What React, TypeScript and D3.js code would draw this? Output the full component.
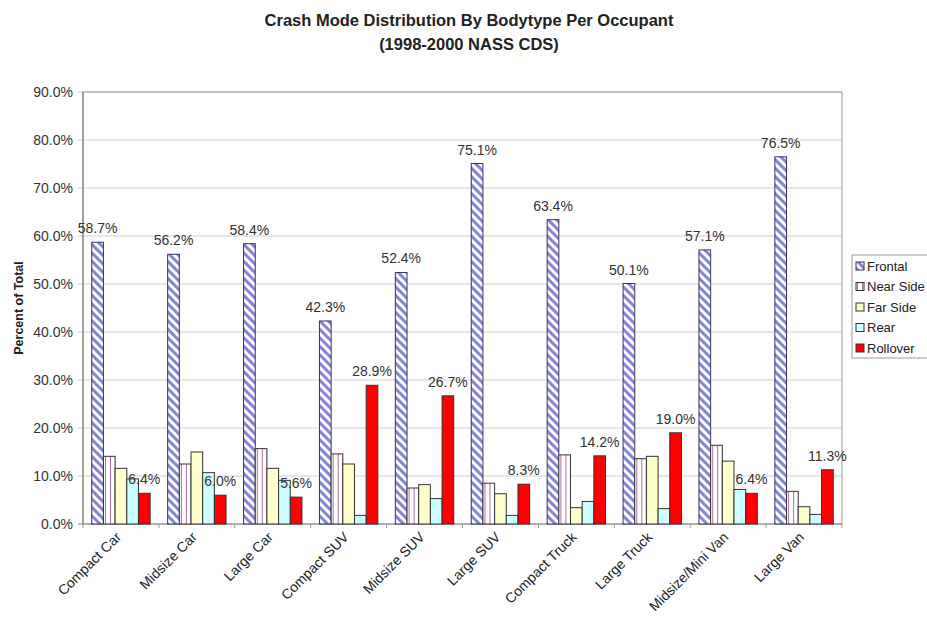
import React from "react";
import * as d3 from "d3";

// Body types along the x axis
const categories = [
  "Compact Car",
  "Midsize Car",
  "Large Car",
  "Compact SUV",
  "Midsize SUV",
  "Large SUV",
  "Compact Truck",
  "Large Truck",
  "Midsize/Mini Van",
  "Large Van",
];

// Crash-mode shares (% of occupants) per body type
const frontal = [58.7, 56.2, 58.4, 42.3, 52.4, 75.1, 63.4, 50.1, 57.1, 76.5];
const nearSide = [14.1, 12.5, 15.7, 14.6, 7.5, 8.5, 14.4, 13.6, 16.4, 6.8];
const farSide = [11.6, 15.0, 11.6, 12.5, 8.2, 6.3, 3.4, 14.1, 13.1, 3.6];
const rear = [9.4, 10.7, 9.1, 1.8, 5.3, 1.8, 4.7, 3.2, 7.2, 2.0];
const rollover = [6.4, 6.0, 5.6, 28.9, 26.7, 8.3, 14.2, 19.0, 6.4, 11.3];

const seriesNames = ["Frontal", "Near Side", "Far Side", "Rear", "Rollover"];
const seriesValues = [frontal, nearSide, farSide, rear, rollover];
const labelledSeries = ["Frontal", "Rollover"];

const yTicks = [0, 10, 20, 30, 40, 50, 60, 70, 80, 90];

const W = 927;
const H = 618;
const plot = { left: 83, right: 842, top: 92, bottom: 524 };
const FONT = "Arial, 'Liberation Sans', Helvetica, sans-serif";

const fills: Record<string, string> = {
  Frontal: "url(#pat-frontal)",
  "Near Side": "url(#pat-near)",
  "Far Side": "#FFFFCC",
  Rear: "#CCFFFF",
  Rollover: "#FF0000",
};
const strokes: Record<string, string> = {
  Frontal: "#333366",
  "Near Side": "#333333",
  "Far Side": "#333333",
  Rear: "#333333",
  Rollover: "#333333",
};

export default function App() {
  const x = d3
    .scaleBand<string>()
    .domain(categories)
    .range([plot.left, plot.right])
    .paddingInner(0)
    .paddingOuter(0);
  const bw = x.bandwidth();
  const barW = bw / 6.5;
  const gap = barW * 1.5;
  const xs = d3
    .scaleBand<string>()
    .domain(seriesNames)
    .range([gap / 2, bw - gap / 2])
    .padding(0);
  const y = d3.scaleLinear().domain([0, 90]).range([plot.bottom, plot.top]);
  const fmtTick = d3.format(".1f");

  const legend = { x: 852, y: 255, w: 90, h: 103 };

  return (
    <svg
      width={W}
      height={H}
      style={{ position: "absolute", left: 0, top: 0, background: "#fff" }}
      fontFamily={FONT}
    >
      <defs>
        <pattern
          id="pat-frontal"
          patternUnits="userSpaceOnUse"
          width={6}
          height={6}
          patternTransform="rotate(-45)"
        >
          <rect width={6} height={6} fill="#ffffff" />
          <rect width={3} height={6} fill="#8484dc" />
        </pattern>
        <pattern id="pat-near" patternUnits="userSpaceOnUse" width={5} height={5}>
          <rect width={5} height={5} fill="#ffffff" />
          <rect x={2} width={1} height={5} fill="#b0709c" />
        </pattern>
      </defs>
      <rect width={W} height={H} fill="#fff" />

      {/* Title */}
      <text x={469} y={26} textAnchor="middle" fontWeight="bold" fontSize={16.5} fill="#222">
        Crash Mode Distribution By Bodytype Per Occupant
      </text>
      <text x={469} y={50} textAnchor="middle" fontWeight="bold" fontSize={16.5} fill="#222">
        (1998-2000 NASS CDS)
      </text>

      {/* Gridlines and y ticks */}
      {yTicks.map((t) => (
        <g key={t}>
          <line
            x1={plot.left - 5}
            x2={plot.right}
            y1={y(t)}
            y2={y(t)}
            stroke={t === 0 ? "#888" : "#cfcfcf"}
            strokeWidth={1}
          />
          <text
            x={73}
            y={y(t)}
            dy="0.35em"
            textAnchor="end"
            fontSize={14}
            fill="#333"
          >
            {fmtTick(t)}%
          </text>
        </g>
      ))}

      {/* Plot frame */}
      <rect
        x={plot.left}
        y={plot.top}
        width={plot.right - plot.left}
        height={plot.bottom - plot.top}
        fill="none"
        stroke="#999"
        strokeWidth={1}
      />
      <line x1={plot.left} x2={plot.left} y1={plot.top} y2={plot.bottom} stroke="#777" />

      {/* Category tick marks */}
      {categories.map((c) => (
        <line
          key={c}
          x1={x(c) as number}
          x2={x(c) as number}
          y1={plot.bottom}
          y2={plot.bottom + 4}
          stroke="#999"
        />
      ))}
      <line x1={plot.right} x2={plot.right} y1={plot.bottom} y2={plot.bottom + 4} stroke="#999" />

      {/* Bars */}
      {categories.map((c, ci) => (
        <g key={c} transform={`translate(${x(c)},0)`}>
          {seriesNames.map((s, si) => {
            const v = seriesValues[si][ci];
            return (
              <rect
                key={s}
                x={xs(s)}
                y={y(v)}
                width={xs.bandwidth()}
                height={y(0) - y(v)}
                fill={fills[s]}
                stroke={strokes[s]}
                strokeWidth={1}
              />
            );
          })}
          {seriesNames.map((s, si) => {
            if (!labelledSeries.includes(s)) return null;
            const v = seriesValues[si][ci];
            return (
              <text
                key={"l" + s}
                x={(xs(s) as number) + xs.bandwidth() / 2}
                y={y(v) - 9}
                textAnchor="middle"
                fontSize={14}
                fill="#333"
              >
                {fmtTick(v)}%
              </text>
            );
          })}
        </g>
      ))}

      {/* Category labels */}
      {categories.map((c) => {
        const cx = (x(c) as number) + bw / 2 + 1;
        const cy = plot.bottom + 14;
        return (
          <text
            key={"x" + c}
            transform={`translate(${cx},${cy}) rotate(-45)`}
            textAnchor="end"
            fontSize={14}
            fill="#222"
          >
            {c}
          </text>
        );
      })}

      {/* Y axis title */}
      <text
        transform={`translate(23,${(plot.top + plot.bottom) / 2}) rotate(-90)`}
        textAnchor="middle"
        fontWeight="bold"
        fontSize={12.5}
        fill="#222"
      >
        Percent of Total
      </text>

      {/* Legend */}
      <rect
        x={legend.x}
        y={legend.y}
        width={legend.w}
        height={legend.h}
        fill="#fff"
        stroke="#999"
      />
      {seriesNames.map((s, i) => {
        const ly = 266 + i * 20.5;
        return (
          <g key={"lg" + s}>
            <rect
              x={856}
              y={ly - 4}
              width={8}
              height={8}
              fill={fills[s]}
              stroke={strokes[s]}
            />
            <text x={867} y={ly} dy="0.36em" fontSize={13} fill="#222">
              {s}
            </text>
          </g>
        );
      })}
    </svg>
  );
}
